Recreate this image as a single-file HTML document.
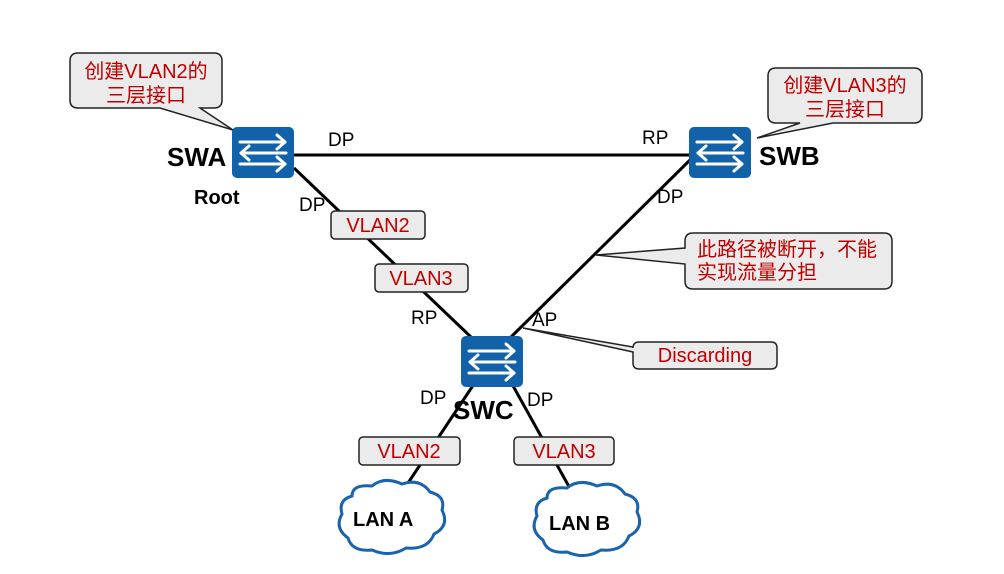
<!DOCTYPE html>
<html><head><meta charset="utf-8"><style>
html,body{margin:0;padding:0;background:#fff;}
svg{display:block;}
.t{font-family:"Liberation Sans","Noto Sans CJK SC",sans-serif;}
</style></head><body>
<svg width="1004" height="574" viewBox="0 0 1004 574" xmlns="http://www.w3.org/2000/svg">
<defs>
<g id="sw">
<rect x="0" y="0" width="62" height="51" rx="5" fill="#1162a8"/>
<g stroke="#fff" stroke-width="3" fill="none" stroke-linecap="round" stroke-linejoin="round">
<line x1="8" y1="15" x2="53" y2="15"/><polyline points="45,8 53,15 45,22"/>
<line x1="9" y1="26" x2="54" y2="26"/><polyline points="17,19 9,26 17,33"/>
<line x1="8" y1="37" x2="53" y2="37"/><polyline points="45,30 53,37 45,44"/>
</g>
</g>
</defs>
<g stroke="#000" stroke-width="3">
<line x1="294" y1="155" x2="689" y2="155"/>
<line x1="294" y1="168" x2="472" y2="338"/>
<line x1="690" y1="160" x2="510" y2="338"/>
<line x1="474" y1="384" x2="402" y2="492"/>
<line x1="512" y1="384" x2="572" y2="492"/>
</g>
<use href="#sw" x="232" y="127"/>
<use href="#sw" x="689" y="127"/>
<use href="#sw" x="461" y="336"/>
<g fill="#ebebeb" stroke="#222" stroke-width="1.5">
<path d="M78,53 H214 Q222,53 222,61 V100 Q222,108 214,108 H200 L233,130 L160,108 H78 Q70,108 70,100 V61 Q70,53 78,53 Z"/>
<path d="M776,68 H914 Q922,68 922,76 V115 Q922,123 914,123 H833 L757,138 L800,123 H776 Q768,123 768,115 V76 Q768,68 776,68 Z"/>
<path d="M693,233 H884 Q892,233 892,241 V281 Q892,289 884,289 H693 Q685,289 685,281 V264 L596,255 L685,248 V241 Q685,233 693,233 Z"/>
<path d="M639,342 H771 Q777,342 777,348 V363 Q777,369 771,369 H639 Q633,369 633,363 V352 L523,328 L633,347 V348 Q633,342 639,342 Z"/>
<rect x="331" y="211" width="94" height="28" rx="4"/>
<rect x="375" y="264" width="93" height="28" rx="4"/>
<rect x="359" y="437" width="101" height="28" rx="4"/>
<rect x="514" y="437" width="100" height="28" rx="4"/>
</g>
<g fill="#fff" stroke="#1a63ad" stroke-width="3">
<path d="M352,496 Q352,484 372,486 Q384,476 402,484 Q420,478 430,492 Q446,496 442,510 Q450,526 434,534 Q428,550 406,548 Q390,558 372,550 Q352,552 348,538 Q334,528 342,514 Q338,500 352,496 Z"/>
<path d="M547,498 Q547,486 567,488 Q579,478 597,486 Q615,480 625,494 Q641,498 637,512 Q645,528 629,536 Q623,552 601,550 Q585,560 567,552 Q547,554 543,540 Q529,530 537,516 Q533,502 547,498 Z"/>
</g>
<g class="t" fill="#c00000" font-size="20" text-anchor="middle">
<text x="146" y="78">创建VLAN2的</text>
<text x="146" y="102">三层接口</text>
<text x="845" y="92">创建VLAN3的</text>
<text x="845" y="116">三层接口</text>
<text x="697" y="256" text-anchor="start">此路径被断开，不能</text>
<text x="697" y="279" text-anchor="start">实现流量分担</text>
<text x="705" y="362">Discarding</text>
<text x="378" y="232">VLAN2</text>
<text x="421" y="285">VLAN3</text>
<text x="409" y="458">VLAN2</text>
<text x="564" y="458">VLAN3</text>
</g>
<g class="t" fill="#000" font-size="19">
<text x="328" y="146">DP</text>
<text x="642" y="144">RP</text>
<text x="299" y="211">DP</text>
<text x="657" y="203">DP</text>
<text x="411" y="324">RP</text>
<text x="532" y="326">AP</text>
<text x="420" y="404">DP</text>
<text x="527" y="406">DP</text>
</g>
<g class="t" fill="#000" font-weight="bold">
<text x="167" y="166" font-size="26">SWA</text>
<text x="759" y="165" font-size="26">SWB</text>
<text x="453" y="419" font-size="26">SWC</text>
<text x="194" y="204" font-size="20">Root</text>
<text x="353" y="526" font-size="20">LAN A</text>
<text x="549" y="530" font-size="20">LAN B</text>
</g>
</svg>
</body></html>
